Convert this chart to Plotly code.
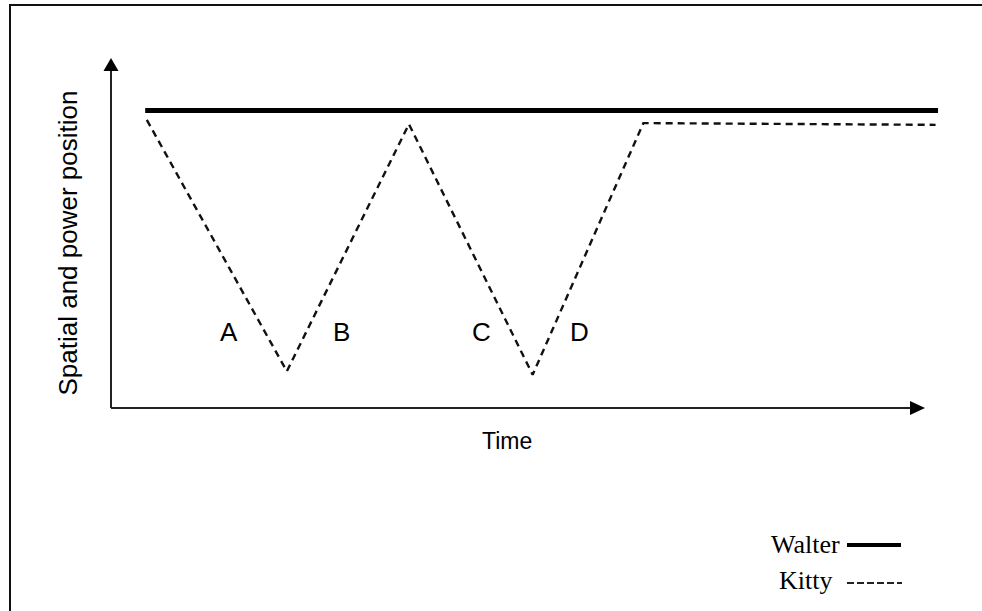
import plotly.graph_objects as go

# ---- data (time 0..100, position 0..100) ----
walter_time = [4.2, 101.6]
walter_pos = [85.0, 85.0]

kitty_time = [4.4, 21.6, 36.6, 51.8, 65.4, 101.3]
kitty_pos = [82.3, 10.5, 81.1, 9.5, 81.4, 80.9]

phase_labels = ["A", "B", "C", "D"]
phase_time = [14.5, 28.3, 45.5, 57.6]
phase_pos = [21.7, 21.7, 21.7, 21.7]

x_title = "Time"
y_title = "Spatial and power position"
legend_names = ["Walter", "Kitty"]

# ---- geometry ----
W, H = 982, 611
PX_X = 8.14   # px per time unit
PX_Y = 3.5    # px per position unit
X0_PX, Y0_PX = 111, 408
x_range = [-X0_PX / PX_X, (W - X0_PX) / PX_X]
y_range = [(Y0_PX - H) / PX_Y, Y0_PX / PX_Y]

fig = go.Figure()

fig.add_trace(go.Scatter(x=walter_time, y=walter_pos, mode="lines",
                         line=dict(color="#000000", width=5),
                         name=legend_names[0], showlegend=False, hoverinfo="skip"))
fig.add_trace(go.Scatter(x=kitty_time, y=kitty_pos, mode="lines",
                         line=dict(color="#111111", width=2.4, dash="7px,5px"),
                         name=legend_names[1], showlegend=False, hoverinfo="skip"))

for lab, t, p in zip(phase_labels, phase_time, phase_pos):
    fig.add_annotation(x=t, y=p, text=lab, showarrow=False,
                       font=dict(family="Liberation Sans, Arial", size=26, color="#000"))

# axes with arrows
ax_col = "#222222"
tip_x = 100.0
tip_y = 100.0
head_len_x = 15 / PX_X
head_half_x = 7 / PX_Y
head_len_y = 13 / PX_Y
head_half_y = 7.5 / PX_X
fig.add_shape(type="line", x0=0, y0=0, x1=tip_x - head_len_x, y1=0,
              line=dict(color=ax_col, width=2))
fig.add_shape(type="path",
              path=f"M {tip_x} 0 L {tip_x - head_len_x} {head_half_x} L {tip_x - head_len_x} {-head_half_x} Z",
              fillcolor="#000", line=dict(width=0))
fig.add_shape(type="line", x0=0, y0=0, x1=0, y1=tip_y - head_len_y,
              line=dict(color=ax_col, width=2))
fig.add_shape(type="path",
              path=f"M 0 {tip_y} L {head_half_y} {tip_y - head_len_y} L {-head_half_y} {tip_y - head_len_y} Z",
              fillcolor="#000", line=dict(width=0))

fig.add_annotation(x=48.6, y=-9.3, text=x_title, showarrow=False,
                   font=dict(family="Liberation Sans, Arial", size=23, color="#000"))
fig.add_annotation(x=-5.4, y=47.0, text=y_title, showarrow=False, textangle=-90,
                   font=dict(family="Liberation Sans, Arial", size=26, color="#000"))

# legend (drawn manually)
fig.add_annotation(xref="paper", yref="paper", x=769 / W, y=1 - 561 / H, xanchor="left",
                   text=legend_names[0], showarrow=False,
                   font=dict(family="Liberation Serif, Times New Roman", size=26, color="#000"))
fig.add_annotation(xref="paper", yref="paper", x=777 / W, y=1 - 597 / H, xanchor="left",
                   text=legend_names[1], showarrow=False,
                   font=dict(family="Liberation Serif, Times New Roman", size=26, color="#000"))
fig.add_shape(type="line", xref="paper", yref="paper", x0=847 / W, x1=901 / W,
              y0=1 - 545 / H, y1=1 - 545 / H, line=dict(color="#000", width=4))
fig.add_shape(type="line", xref="paper", yref="paper", x0=847 / W, x1=902 / W,
              y0=1 - 583 / H, y1=1 - 583 / H, line=dict(color="#222", width=2, dash="7px,3px"))

# frame (left and top border)
fig.add_shape(type="path", xref="paper", yref="paper",
              path=f"M {10/W} 0 L {10/W} {1-5/H} L 1 {1-5/H}",
              line=dict(color="#111", width=2))

fig.update_layout(
    width=W, height=H,
    margin=dict(l=0, r=0, t=0, b=0),
    paper_bgcolor="white", plot_bgcolor="white",
    xaxis=dict(range=x_range, visible=False, fixedrange=True),
    yaxis=dict(range=y_range, visible=False, fixedrange=True),
    showlegend=False,
)

fig.write_html("out.html", config={"displayModeBar": False},
               post_script="document.body.style.margin='0';document.body.style.overflow='hidden';")
